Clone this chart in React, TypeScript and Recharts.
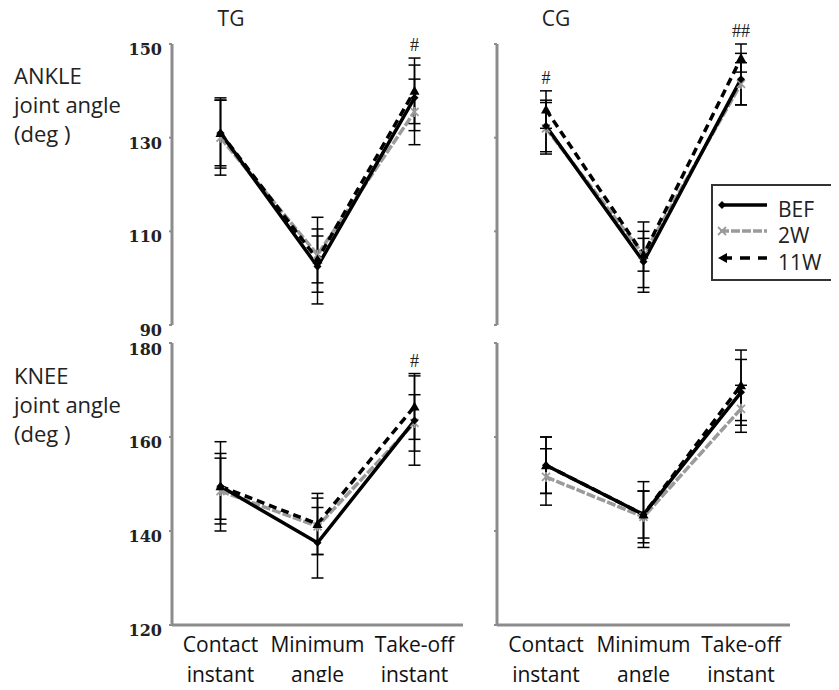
import React from "react";
import { LineChart, Line, XAxis, YAxis, ErrorBar, ReferenceDot } from "recharts";

// categories along the x axis
const categories = ["Contact instant", "Minimum angle", "Take-off instant"];

// ANKLE joint angle, TG
const ankleTgBef = [131, 102.5, 138.5];
const ankleTg2w = [130, 105, 135.5];
const ankleTg11w = [131, 104, 140];
const ankleTgBefSd = [7.5, 8, 7];
const ankleTg2wSd = [8, 8, 7];
const ankleTg11wSd = [7, 5, 7];
const ankleTgSig = ["", "", "#"];

// ANKLE joint angle, CG
const ankleCgBef = [132.5, 103.5, 142.5];
const ankleCg2w = [132, 105, 141.5];
const ankleCg11w = [136, 105, 147];
const ankleCgBefSd = [5.5, 6.5, 5.5];
const ankleCg2wSd = [5.5, 3.5, 4.5];
const ankleCg11wSd = [4, 7, 3];
const ankleCgSig = ["#", "", "##"];

// KNEE joint angle, TG
const kneeTgBef = [149.5, 137.5, 163.5];
const kneeTg2w = [148.5, 141, 163];
const kneeTg11w = [149.5, 141.5, 166.5];
const kneeTgBefSd = [9.5, 7.5, 9.5];
const kneeTg2wSd = [7, 6, 6];
const kneeTg11wSd = [7, 6.5, 7];
const kneeTgSig = ["", "", "#"];

// KNEE joint angle, CG
const kneeCgBef = [154, 143.5, 169.5];
const kneeCg2w = [151.5, 143, 166];
const kneeCg11w = [154, 143.5, 171];
const kneeCgBefSd = [6, 7, 7];
const kneeCg2wSd = [6, 5.5, 5];
const kneeCg11wSd = [6, 5, 7.5];
const kneeCgSig = ["", "", ""];

const ankleTicks = [90, 110, 130, 150];
const kneeTicks = [120, 140, 160, 180];

const AXIS = "#8c8c8c";
const GREY = "#9b9b9b";

const buildRows = (
  bef: number[], w2: number[], w11: number[],
  befSd: number[], w2Sd: number[], w11Sd: number[]
) =>
  categories.map((name, i) => ({
    name,
    bef: bef[i], w2: w2[i], w11: w11[i],
    befSd: befSd[i], w2Sd: w2Sd[i], w11Sd: w11Sd[i],
  }));

const diamond = (p: any) => {
  const { cx, cy, index } = p;
  return <path key={`d${index}`} d={`M${cx},${cy - 4}L${cx + 4},${cy}L${cx},${cy + 4}L${cx - 4},${cy}Z`} fill="#000" />;
};

const star = (p: any) => {
  const { cx, cy, index } = p;
  return (
    <g key={`s${index}`} stroke={GREY} strokeWidth={1.8}>
      <line x1={cx - 4} y1={cy - 4} x2={cx + 4} y2={cy + 4} />
      <line x1={cx - 4} y1={cy + 4} x2={cx + 4} y2={cy - 4} />
      <line x1={cx} y1={cy - 5} x2={cx} y2={cy + 5} />
    </g>
  );
};

const triangle = (p: any) => {
  const { cx, cy, index } = p;
  return <path key={`t${index}`} d={`M${cx},${cy - 5}L${cx + 5},${cy + 4}L${cx - 5},${cy + 4}Z`} fill="#000" />;
};

const YTick = (props: any) => {
  const { x, y, payload, show } = props;
  if (!show) return <g />;
  return (
    <text x={x - 5} y={y + 11} textAnchor="end" fontFamily='"DejaVu Serif", serif' fontWeight="bold" fontSize={16} fill="#222">
      {payload.value}
    </text>
  );
};

const XTick = (props: any) => {
  const { x, y, payload } = props;
  const [a, b] = String(payload.value).split(" ");
  return (
    <g fontFamily='"Open Sans", sans-serif' fontSize={21} fill="#111">
      <text x={x} y={y + 19} textAnchor="middle">{a}</text>
      <text x={x} y={y + 49} textAnchor="middle">{b}</text>
    </g>
  );
};

const SigLabel = (props: any) => {
  const { viewBox, text } = props;
  const x = viewBox.x + viewBox.width / 2;
  return (
    <text x={x} y={viewBox.y - 7} textAnchor="middle" fontFamily='"Liberation Serif", serif' fontSize={18} fill="#222">
      {text}
    </text>
  );
};

type PanelProps = {
  rows: ReturnType<typeof buildRows>;
  sig: string[];
  ticks: number[];
  left: number;
  top: number;
  bottomRow: boolean;
  leftCol: boolean;
};

const Panel = ({ rows, sig, ticks, left, top, bottomRow, leftCol }: PanelProps) => {
  const width = leftCol ? 480 : 369;
  const height = bottomRow ? 355 : 340;
  const pad = leftCol ? 48.5 : 49;
  return (
    <div style={{ position: "absolute", left, top }}>
      <LineChart
        width={width}
        height={height}
        data={rows}
        margin={{ top: bottomRow ? 8 : 44, right: leftCol ? 17 : 49, left: 0, bottom: bottomRow ? 10 : 15 }}
      >
        <XAxis
          dataKey="name"
          height={bottomRow ? 55 : 0}
          padding={{ left: pad, right: pad }}
          axisLine={{ stroke: AXIS, strokeWidth: 3 }}
          tickLine={false}
          tick={bottomRow ? <XTick /> : false}
          interval={0}
        />
        <YAxis
          width={leftCol ? 172 : 27}
          domain={[ticks[0], ticks[ticks.length - 1]]}
          ticks={ticks}
          allowDataOverflow
          axisLine={{ stroke: AXIS, strokeWidth: 3 }}
          tickLine={{ stroke: AXIS, strokeWidth: 2 }}
          tickSize={3}
          tick={<YTick show={leftCol} />}
        />
        <Line dataKey="w2" stroke={GREY} strokeWidth={3.5} strokeDasharray="9 2" dot={star} isAnimationActive={false}>
          <ErrorBar dataKey="w2Sd" width={6} stroke="#000" strokeWidth={1.5} direction="y" />
        </Line>
        <Line dataKey="bef" stroke="#000" strokeWidth={3.5} dot={diamond} isAnimationActive={false}>
          <ErrorBar dataKey="befSd" width={6} stroke="#000" strokeWidth={1.5} direction="y" />
        </Line>
        <Line dataKey="w11" stroke="#000" strokeWidth={3.5} strokeDasharray="8 5" dot={triangle} isAnimationActive={false}>
          <ErrorBar dataKey="w11Sd" width={6} stroke="#000" strokeWidth={1.5} direction="y" />
        </Line>
        {rows.map((r, i) =>
          sig[i] ? (
            <ReferenceDot
              key={`sig${i}`}
              x={r.name}
              y={r.w11 + r.w11Sd}
              r={0}
              ifOverflow="visible"
              label={<SigLabel text={sig[i]} />}
            />
          ) : null
        )}
      </LineChart>
    </div>
  );
};

const App = () => {
  const ankleTg = buildRows(ankleTgBef, ankleTg2w, ankleTg11w, ankleTgBefSd, ankleTg2wSd, ankleTg11wSd);
  const ankleCg = buildRows(ankleCgBef, ankleCg2w, ankleCg11w, ankleCgBefSd, ankleCg2wSd, ankleCg11wSd);
  const kneeTg = buildRows(kneeTgBef, kneeTg2w, kneeTg11w, kneeTgBefSd, kneeTg2wSd, kneeTg11wSd);
  const kneeCg = buildRows(kneeCgBef, kneeCg2w, kneeCg11w, kneeCgBefSd, kneeCg2wSd, kneeCg11wSd);

  const label = { fontFamily: '"Open Sans", sans-serif', fontSize: 22, fill: "#222" };
  const legendText = { fontFamily: '"Open Sans", sans-serif', fontSize: 21, fill: "#222" };

  return (
    <div style={{ position: "relative", width: 839, height: 690, margin: -8, background: "#fff", overflow: "hidden" }}>
      <Panel rows={ankleTg} sig={ankleTgSig} ticks={ankleTicks} left={0} top={0} bottomRow={false} leftCol />
      <Panel rows={ankleCg} sig={ankleCgSig} ticks={ankleTicks} left={470} top={0} bottomRow={false} leftCol={false} />
      <Panel rows={kneeTg} sig={kneeTgSig} ticks={kneeTicks} left={0} top={335} bottomRow leftCol />
      <Panel rows={kneeCg} sig={kneeCgSig} ticks={kneeTicks} left={470} top={335} bottomRow leftCol={false} />

      <svg width={839} height={690} style={{ position: "absolute", left: 0, top: 0, pointerEvents: "none" }}>
        <text x={231} y={26} textAnchor="middle" {...legendText}>TG</text>
        <text x={556} y={26} textAnchor="middle" {...legendText}>CG</text>

        <text x={14} y={84} {...label}>ANKLE</text>
        <text x={14} y={113} {...label}>joint angle</text>
        <text x={14} y={142} {...label}>(deg )</text>

        <text x={14} y={384} {...label}>KNEE</text>
        <text x={14} y={413} {...label}>joint angle</text>
        <text x={14} y={442} {...label}>(deg )</text>

        <rect x={712} y={185} width={140} height={95} fill="#fff" stroke="#333" strokeWidth={2} />
        <line x1={720} y1={205} x2={767} y2={205} stroke="#000" strokeWidth={3.5} />
        <path d="M722,201L726,205L722,209L718,205Z" fill="#000" />
        <text x={778} y={217} {...legendText}>BEF</text>

        <line x1={720} y1={231} x2={767} y2={231} stroke={GREY} strokeWidth={3.5} strokeDasharray="9 2" />
        <g stroke={GREY} strokeWidth={1.8}>
          <line x1={718} y1={227} x2={726} y2={235} />
          <line x1={718} y1={235} x2={726} y2={227} />
        </g>
        <text x={778} y={243} {...legendText}>2W</text>

        <line x1={722} y1={258} x2={767} y2={258} stroke="#000" strokeWidth={3.5} strokeDasharray="10 8" />
        <path d="M718,258L727,253L727,263Z" fill="#000" />
        <text x={778} y={270} {...legendText}>11W</text>
      </svg>
    </div>
  );
};

export default App;
